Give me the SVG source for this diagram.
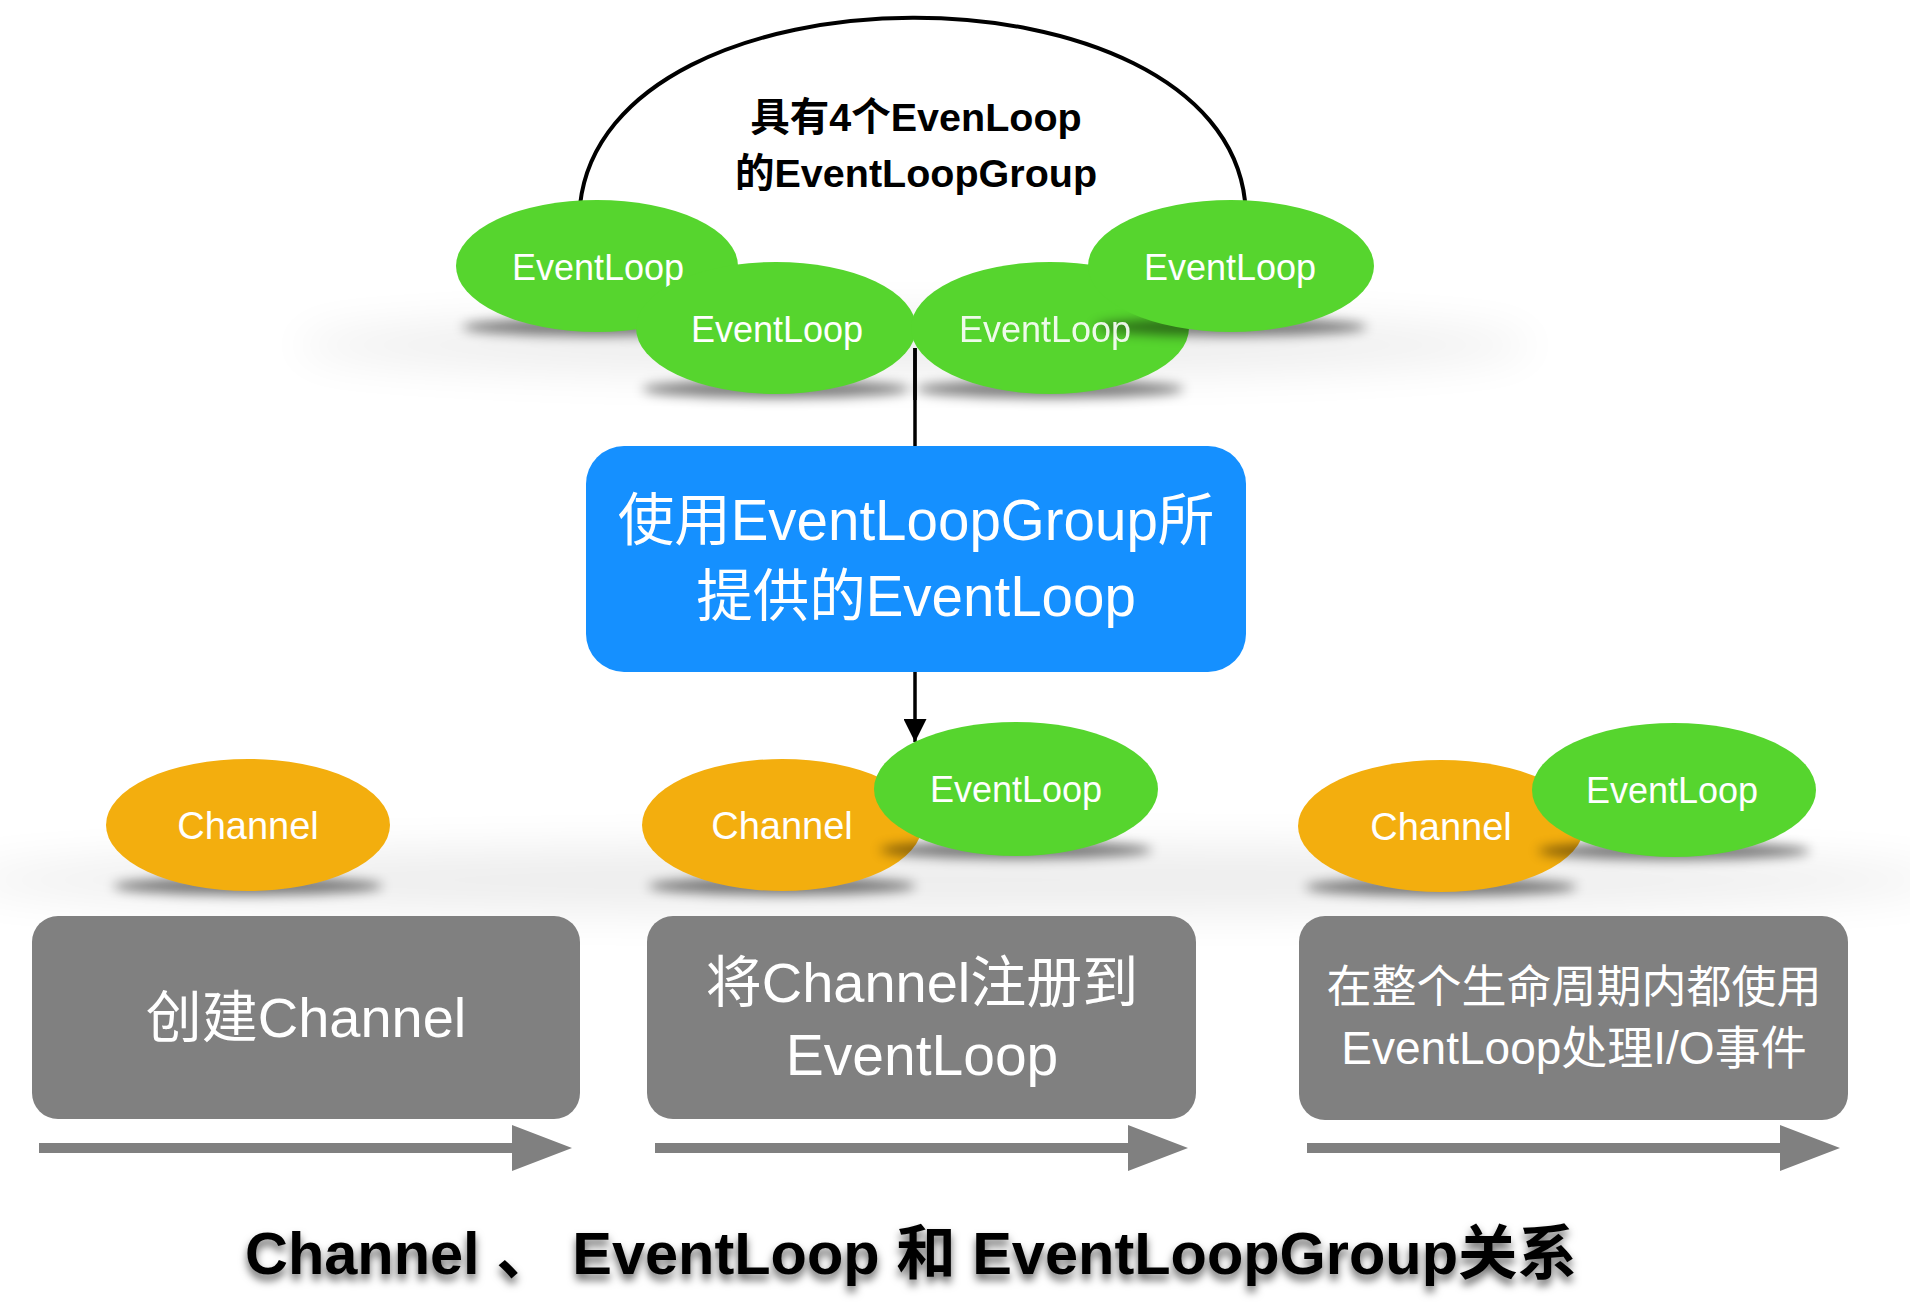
<svg xmlns="http://www.w3.org/2000/svg" width="1910" height="1310" viewBox="0 0 1910 1310">
<style>
.t{font-family:"Liberation Sans","Noto Sans CJK SC",sans-serif;fill:#fff;text-anchor:middle}
.b{font-weight:bold;fill:#000}
.el{font-size:36px}
.ch{font-size:38px}
.green{fill:#56D52E}
.orange{fill:#F3AE0E}
.gray{fill:#808080}
.sh{fill:#000;opacity:0.5;filter:url(#blurS)}
.halo{fill:#000;opacity:0.07;filter:url(#blurL)}
</style>
<defs>
<filter id="blurS" x="-50%" y="-300%" width="200%" height="700%"><feGaussianBlur stdDeviation="6"/></filter>
<filter id="blurL" x="-50%" y="-200%" width="200%" height="500%"><feGaussianBlur stdDeviation="22"/></filter>
<filter id="tsh" x="-5%" y="-30%" width="110%" height="170%"><feDropShadow dx="0" dy="6" stdDeviation="4" flood-color="#000" flood-opacity="0.6"/></filter>
<marker id="ah" viewBox="0 0 10 10" refX="10" refY="5" markerWidth="23" markerHeight="23" markerUnits="userSpaceOnUse" orient="auto"><path d="M0,0 L10,5 L0,10 z" fill="#000"/></marker>
</defs>
<rect width="1910" height="1310" fill="#fff"/>

<ellipse class="halo" cx="915" cy="345" rx="620" ry="30"/>
<ellipse class="halo" cx="955" cy="880" rx="1000" ry="34"/>

<g id="connectors">
<path d="M580,205 C607,-44 1218,-44 1245,201" fill="none" stroke="#000" stroke-width="4"/>
<line x1="915" y1="348" x2="915" y2="446" stroke="#000" stroke-width="3.5"/>
<line x1="915" y1="672" x2="915" y2="742" stroke="#000" stroke-width="3.5" marker-end="url(#ah)"/>
<path class="gray" d="M39,1143 H512 V1125 L572,1148 L512,1171 V1153 H39 z"/>
<path class="gray" d="M655,1143 H1128 V1125 L1188,1148 L1128,1171 V1153 H655 z"/>
<path class="gray" d="M1307,1143 H1780 V1125 L1840,1148 L1780,1171 V1153 H1307 z"/>
</g>

<g id="group-label">
<text class="t b" x="916" y="131" font-size="39.5">具有4个EvenLoop</text>
<text class="t b" x="916" y="187" font-size="39.5">的EventLoopGroup</text>
</g>

<g id="eventloop-1">
<ellipse class="sh" cx="597" cy="327" rx="135" ry="9"/>
<ellipse class="green" cx="597" cy="266" rx="141" ry="66"/>
<text class="t el" x="598" y="280">EventLoop</text>
</g>
<g id="eventloop-2">
<ellipse class="sh" cx="776" cy="389" rx="134" ry="9"/>
<ellipse class="green" cx="776" cy="328" rx="140" ry="66"/>
<text class="t el" x="777" y="342">EventLoop</text>
</g>
<g id="eventloop-3">
<ellipse class="sh" cx="1050" cy="389" rx="134" ry="9"/>
<ellipse class="green" cx="1050" cy="328" rx="139" ry="66"/>
</g>
<g id="eventloop-4">
<ellipse class="sh" cx="1231" cy="327" rx="136" ry="9"/>
<ellipse class="green" cx="1231" cy="266" rx="143" ry="66"/>
<text class="t el" x="1230" y="280">EventLoop</text>
</g>
<text class="t el" x="1045" y="342" opacity="0.9">EventLoop</text>
<line x1="915" y1="348" x2="915" y2="400" stroke="#000" stroke-width="3.5"/>

<g id="use-eventloop">
<rect x="586" y="446" width="660" height="226" rx="38" fill="#1590FF"/>
<text class="t" x="916" y="540" font-size="56.5">使用EventLoopGroup所</text>
<text class="t" x="916" y="616" font-size="56.5">提供的EventLoop</text>
</g>

<g id="channel-1">
<ellipse class="sh" cx="248" cy="886" rx="135" ry="9"/>
<ellipse class="orange" cx="248" cy="825" rx="142" ry="66"/>
<text class="t ch" x="248" y="839">Channel</text>
</g>
<g id="channel-2">
<ellipse class="sh" cx="782" cy="886" rx="134" ry="9"/>
<ellipse class="orange" cx="782" cy="825" rx="140" ry="66"/>
<text class="t ch" x="782" y="839">Channel</text>
</g>
<g id="eventloop-5">
<ellipse class="sh" cx="1016" cy="850" rx="136" ry="9"/>
<ellipse class="green" cx="1016" cy="789" rx="142" ry="67"/>
<text class="t el" x="1016" y="802">EventLoop</text>
</g>
<g id="channel-3">
<ellipse class="sh" cx="1441" cy="887" rx="136" ry="9"/>
<ellipse class="orange" cx="1441" cy="826" rx="143" ry="66"/>
<text class="t ch" x="1441" y="840">Channel</text>
</g>
<g id="eventloop-6">
<ellipse class="sh" cx="1674" cy="851" rx="136" ry="9"/>
<ellipse class="green" cx="1674" cy="790" rx="142" ry="67"/>
<text class="t el" x="1672" y="803">EventLoop</text>
</g>

<g id="step-1">
<rect x="32" y="916" width="548" height="203" rx="26" class="gray"/>
<text class="t" x="306" y="1037" font-size="56">创建Channel</text>
</g>
<g id="step-2">
<rect x="647" y="916" width="549" height="203" rx="26" class="gray"/>
<text class="t" x="922" y="1002" font-size="56">将Channel注册到</text>
<text class="t" x="922" y="1075" font-size="57">EventLoop</text>
</g>
<g id="step-3">
<rect x="1299" y="916" width="549" height="204" rx="26" class="gray"/>
<text class="t" x="1574" y="1003" font-size="45">在整个生命周期内都使用</text>
<text class="t" x="1574" y="1064" font-size="46">EventLoop处理I/O事件</text>
</g>

<g id="title">
<text class="t b" x="911" y="1274" font-size="59.5" filter="url(#tsh)" xml:space="preserve">Channel 、 EventLoop 和 EventLoopGroup关系</text>
</g>
</svg>
